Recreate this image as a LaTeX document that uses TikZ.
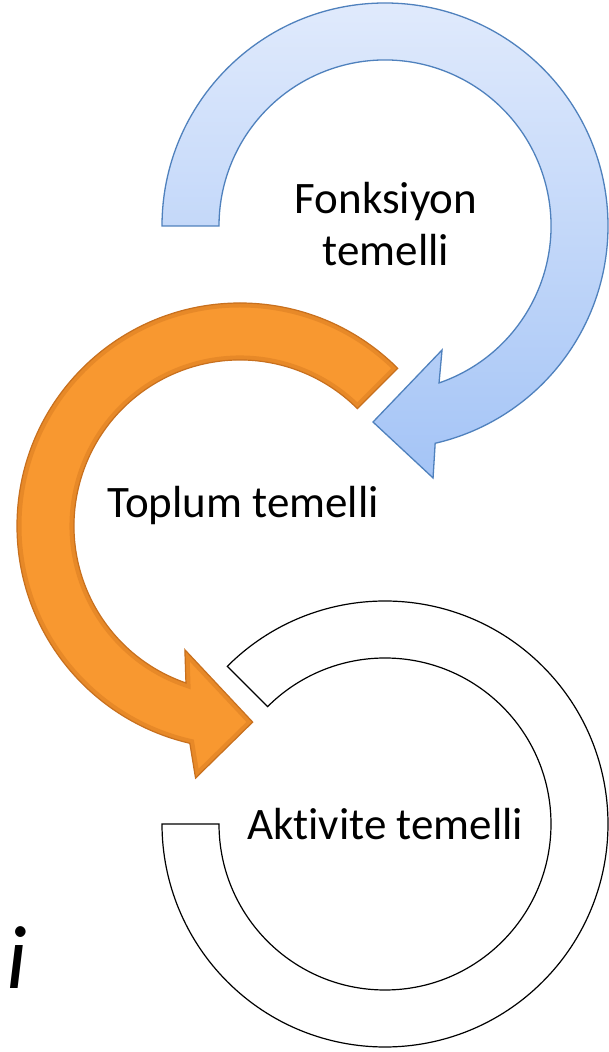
\documentclass[tikz,border=0pt]{standalone}
\usepackage{fontspec}
\setmainfont[Ligatures=NoCommon]{Carlito}
\usetikzlibrary{calc}
\definecolor{bluetop}{RGB}{224,234,252}
\definecolor{bluebot}{RGB}{164,196,246}
\definecolor{blueedge}{RGB}{79,129,189}
\definecolor{orangefill}{RGB}{248,152,48}
\definecolor{orangeedge}{RGB}{200,112,30}
\definecolor{orangerim}{RGB}{190,100,20}
\tikzset{
  bluearrow/.style={draw=blueedge, line width=1.3pt, top color=bluetop, bottom color=bluebot, line join=miter},
  orangearrow/.style={fill=orangefill},
  orangerimline/.style={draw=orangerim, line width=9pt, draw opacity=0.28, line join=miter},
  orangeline/.style={draw=orangeedge, line width=1.2pt, line join=miter},
  whitearrow/.style={draw=black, line width=1.2pt, fill=white, line join=miter},
  label/.style={inner sep=0pt, font=\fontsize{45}{52}\selectfont, text=black}
}
\begin{document}
\begin{tikzpicture}[x=1pt,y=1pt]
\useasboundingbox (0,0) rectangle (608,1052);
\fill[white] (0,0) rectangle (608,1052);
\coordinate (cb) at (385,826);
\coordinate (co) at (240,526);
\coordinate (cw) at (385,228);
% white ring
\draw[whitearrow] ($(cw)+(135:223)$) arc[start angle=135,end angle=-180,radius=223]
  -- ($(cw)+(180:166)$) arc[start angle=-180,end angle=135,radius=166] -- cycle;
% orange arrow
\def\orangepath{($(co)+(45:223)$) arc[start angle=45,end angle=257,radius=223]
  -- ($(co)+(260:256)$) -- ($(co)+(273.7:196.5)$) -- ($(co)+(246:135.5)$)
  -- ($(co)+(251:166)$) arc[start angle=251,end angle=45,radius=166] -- cycle}
\fill[orangearrow] \orangepath;
\begin{scope}
  \clip \orangepath;
  \draw[orangerimline] \orangepath;
\end{scope}
\draw[orangeline] \orangepath;
% blue arrow
\draw[bluearrow] ($(cb)+(180:223)$) arc[start angle=180,end angle=-77,radius=223]
  -- ($(cb)+(-79.2:256.5)$) -- ($(cb)+(-93.5:196.4)$) -- ($(cb)+(-65.3:136.5)$)
  -- ($(cb)+(-71:166)$) arc[start angle=-71,end angle=180,radius=166] -- cycle;
% labels
\node[label, align=center] (fonk) at (386,828) {Fonksiyon\\temelli};
\node[label, anchor=base] (topl) at (243,534) {Toplum temelli};
\node[label, anchor=base] (akti) at (385,212) {Aktivite temelli};
\node[inner sep=0pt, anchor=base west, font=\fontsize{90}{100}\selectfont\itshape] (ii) at (6,63) {i};
\end{tikzpicture}
\end{document}
